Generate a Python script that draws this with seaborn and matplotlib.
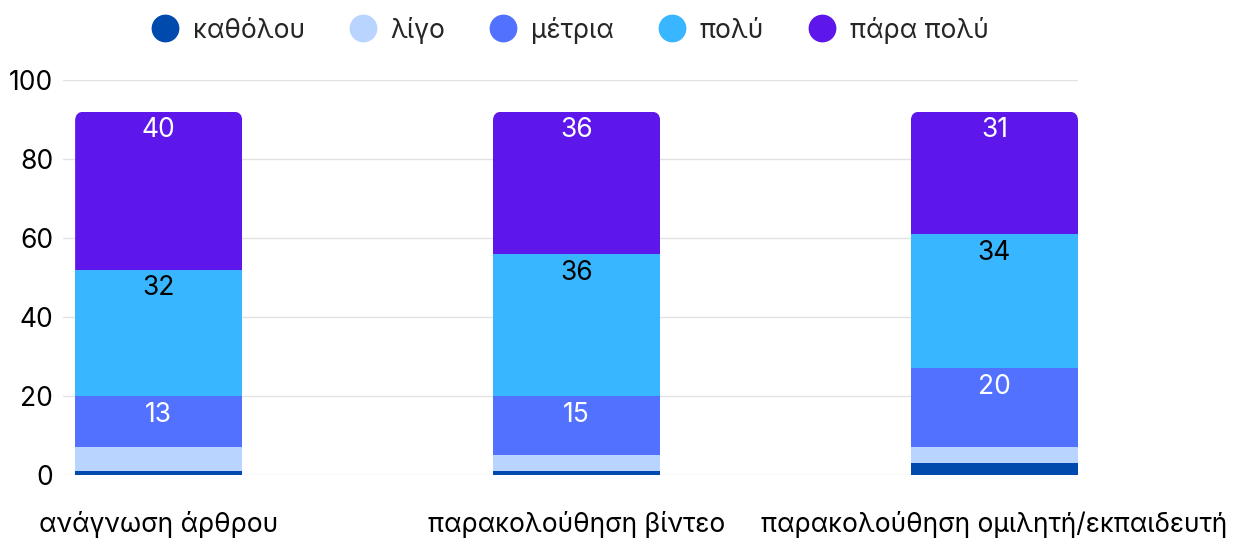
import numpy as np
import pandas as pd
import matplotlib
matplotlib.use("Agg")
import matplotlib.pyplot as plt
import seaborn as sns
from matplotlib.patches import FancyBboxPatch
from matplotlib.lines import Line2D

categories = ["ανάγνωση άρθρου", "παρακολούθηση βίντεο", "παρακολούθηση ομιλητή/εκπαιδευτή"]
series_names = ["καθόλου", "λίγο", "μέτρια", "πολύ", "πάρα πολύ"]
kathólou = [1, 1, 3]
ligo = [6, 4, 4]
metria = [13, 15, 20]
poly = [32, 36, 34]
para_poly = [40, 36, 31]
colors = ["#004AAD", "#B8D4FF", "#5271FF", "#38B6FF", "#5E17EB"]
label_colors = [None, None, "white", "black", "white"]
y_ticks = [0, 20, 40, 60, 80, 100]

sns.set_theme(style="white")
plt.rcParams["font.family"] = ["Inter", "DejaVu Sans"]

FS = 19

series_vals = [kathólou, ligo, metria, poly, para_poly]
df = pd.DataFrame({"category": categories})
cum = np.zeros(len(categories))
cums = []
for name, vals in zip(series_names, series_vals):
    cum = cum + np.array(vals)
    df[name] = cum.copy()
    cums.append(cum.copy())

fig = plt.figure(figsize=(12.37, 5.38), dpi=100)
ax = fig.add_axes([63 / 1237, 1 - 475 / 538, (1078 - 63) / 1237, (475 - 80) / 538])

# draw from largest cumulative to smallest
top_patches = None
for i in reversed(range(len(series_names))):
    n_before = len(ax.patches)
    sns.barplot(data=df, x="category", y=series_names[i], color=colors[i],
                width=0.4, saturation=1, ax=ax, linewidth=0, edgecolor="none", zorder=3)
    if i == len(series_names) - 1:
        top_patches = ax.patches[n_before:]

ax.set_ylim(0, 100)
ax.set_xlim(-0.229, 2.2)
ax.set_yticks(y_ticks)
ax.set_yticklabels([str(t) for t in y_ticks])
ax.set_xlabel("")
ax.set_ylabel("")
for s in ax.spines.values():
    s.set_visible(False)
ax.yaxis.grid(True, color="#E2E2E2", linewidth=1, zorder=0)
ax.xaxis.grid(False)
ax.set_axisbelow(True)
ax.tick_params(axis="both", length=0, labelsize=FS, colors="black")
ax.tick_params(axis="x", pad=26)
ax.tick_params(axis="y", pad=7)

# rounded top corners on the top segment
fig.canvas.draw()
px_x = (ax.get_xlim()[1] - ax.get_xlim()[0]) / ax.bbox.width
px_y = (ax.get_ylim()[1] - ax.get_ylim()[0]) / ax.bbox.height
r_px = 9
for p in top_patches:
    x0, w, h = p.get_x(), p.get_width(), p.get_height()
    clip = FancyBboxPatch((x0, 0), w, h,
                          boxstyle=f"round,pad=0,rounding_size={r_px * px_x}",
                          mutation_aspect=px_y / px_x,
                          transform=ax.transData, facecolor="none", edgecolor="none")
    ax.add_patch(clip)
    clip.set_visible(False)
    p.set_clip_path(clip)

# value labels
for i in range(2, 5):
    for j in range(len(categories)):
        ax.annotate(str(series_vals[i][j]), xy=(j, cums[i][j]), xytext=(0, -13.5),
                    textcoords="offset points", ha="center", va="center",
                    fontsize=FS, color=label_colors[i], zorder=5)

handles = [Line2D([0], [0], marker="o", linestyle="", markersize=19,
                  markerfacecolor=c, markeredgecolor=c) for c in colors]
fig.legend(handles, series_names, loc="center", bbox_to_anchor=(570 / 1237, 1 - 30 / 538),
           ncol=5, frameon=False, fontsize=FS, handletextpad=0.55, columnspacing=1.7,
           handlelength=1.0)

fig.savefig("out.png", dpi=100)
